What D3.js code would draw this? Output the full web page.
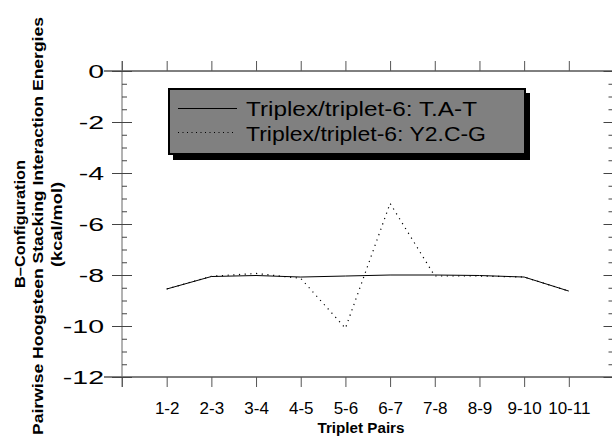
<!DOCTYPE html>
<html>
<head>
<meta charset="utf-8">
<script src="https://cdn.jsdelivr.net/npm/d3@7"></script>
<style>
  body { margin: 0; background: #fff; }
  svg { display: block; font-family: "Liberation Sans", Arial, sans-serif; }
  svg text { font-family: "Liberation Sans", Arial, sans-serif; }
</style>
</head>
<body>
<div id="chart"></div>
<script>
// Triplet pair categories (x positions 1..10)
const pairs = ['1-2', '2-3', '3-4', '4-5', '5-6', '6-7', '7-8', '8-9', '9-10', '10-11'];

// Stacking energies in kcal/mol
const tatValues = [-8.55, -8.06, -8.02, -8.08, -8.04, -8.0, -8.0, -8.02, -8.08, -8.63];
const cgValues  = [-8.55, -8.05, -7.94, -8.13, -10.09, -5.19, -8.04, -8.04, -8.08, -8.63];

const seriesNames = ['Triplex/triplet-6: T.A-T', 'Triplex/triplet-6: Y2.C-G'];
const yMajorTicks = [0, -2, -4, -6, -8, -10, -12];
const yTitleLines = ['B\u2013Configuration', 'Pairwise Hoogsteen Stacking Interaction Energies', '(kcal/mol)'];
const xTitle = 'Triplet Pairs';

const width = 612, height = 437;
const plot = { left: 122, right: 613.5, top: 71, bottom: 377 };
const font = '"Liberation Sans", Arial, sans-serif';

const svg = d3.select('#chart').append('svg')
  .attr('width', width)
  .attr('height', height);

const x = d3.scaleLinear().domain([0, 11]).range([plot.left, plot.right]);
const y = d3.scaleLinear().domain([0, -12]).range([plot.top, plot.bottom]);

const minorTicks = d3.range(0, -12.01, -0.5).filter(v => Math.abs(v % 2) > 0.01);
const xTicks = d3.range(0, 12);

// bottom axis with labels
const gBottom = svg.append('g')
  .attr('transform', `translate(0,${plot.bottom})`)
  .call(d3.axisBottom(x).tickValues(xTicks).tickSize(10).tickPadding(15)
    .tickFormat(i => pairs[i - 1] || ''))
  .attr('font-family', font);
gBottom.select('.domain').attr('stroke', '#000').attr('d', `M${plot.left - 18},0H${width}`);
gBottom.selectAll('.tick line').attr('stroke', '#555');
gBottom.selectAll('.tick text')
  .style('font-size', '17px')
  .attr('fill', '#000');

// top axis, ticks only
const gTop = svg.append('g')
  .attr('transform', `translate(0,${plot.top})`)
  .call(d3.axisTop(x).tickValues(xTicks).tickSize(10).tickFormat(''));
gTop.select('.domain').attr('stroke', '#000').attr('d', `M${plot.left - 18},0H${width}`);
gTop.selectAll('.tick line').attr('stroke', '#555');

// left axis: major crossing ticks with labels (labels are drawn wide in the original)
const gLeft = svg.append('g')
  .attr('transform', `translate(${plot.left},0)`)
  .call(d3.axisLeft(y).tickValues(yMajorTicks).tickSize(10).tickPadding(8)
    .tickFormat(d3.format('d')))
  .attr('font-family', font);
gLeft.select('.domain').attr('stroke', '#666').attr('d', `M0,${plot.top - 10}V${plot.bottom + 10}`);
gLeft.selectAll('.tick line').attr('x1', 10).attr('x2', -10).attr('stroke', '#444');
gLeft.selectAll('.tick text')
  .style('font-size', '19px')
  .attr('fill', '#000')
  .attr('x', 0)
  .attr('transform', 'translate(-18,0) scale(1.5,1)')
  .text(d => d === 0 ? '0' : '-' + Math.abs(d));

// left minor ticks, inward
const gLeftMinor = svg.append('g')
  .attr('transform', `translate(${plot.left},0)`)
  .call(d3.axisLeft(y).tickValues(minorTicks).tickSize(-5).tickFormat(''));
gLeftMinor.select('.domain').remove();
gLeftMinor.selectAll('.tick line').attr('stroke', '#444');

// right axis
const gRight = svg.append('g')
  .attr('transform', `translate(${plot.right},0)`)
  .call(d3.axisRight(y).tickValues(yMajorTicks).tickSize(10).tickFormat(''));
gRight.select('.domain').attr('stroke', '#666');
gRight.selectAll('.tick line').attr('x1', -10).attr('x2', 10).attr('stroke', '#444');
const gRightMinor = svg.append('g')
  .attr('transform', `translate(${plot.right},0)`)
  .call(d3.axisRight(y).tickValues(minorTicks).tickSize(-5).tickFormat(''));
gRightMinor.select('.domain').remove();
gRightMinor.selectAll('.tick line').attr('stroke', '#444');

// data lines
const line = d3.line()
  .x((d, i) => x(i + 1))
  .y(d => y(d));

svg.append('path')
  .datum(cgValues)
  .attr('d', line)
  .attr('fill', 'none')
  .attr('stroke', '#000')
  .attr('stroke-width', 1.2)
  .attr('stroke-dasharray', '1.2,4.5');

svg.append('path')
  .datum(tatValues)
  .attr('d', line)
  .attr('fill', 'none')
  .attr('stroke', '#000')
  .attr('stroke-width', 1);

// legend box with drop shadow
const legend = svg.append('g');
legend.append('rect')
  .attr('x', 173).attr('y', 93)
  .attr('width', 357).attr('height', 67)
  .attr('fill', '#000');
legend.append('rect')
  .attr('x', 169).attr('y', 89)
  .attr('width', 356).attr('height', 65)
  .attr('fill', '#808080')
  .attr('stroke', '#000')
  .attr('stroke-width', 2);

const legendRows = [
  { name: seriesNames[0], dash: null, ly: 108.5, by: 116, len: 231, x2: 237 },
  { name: seriesNames[1], dash: '1,3.5', ly: 132.5, by: 140.5, len: 240, x2: 233 }
];
legendRows.forEach(r => {
  legend.append('line')
    .attr('x1', 178).attr('x2', r.x2)
    .attr('y1', r.ly).attr('y2', r.ly)
    .attr('stroke', '#000')
    .attr('stroke-width', 1)
    .attr('stroke-dasharray', r.dash);
  legend.append('text')
    .attr('x', 246).attr('y', r.by)
    .attr('textLength', r.len)
    .attr('lengthAdjust', 'spacingAndGlyphs')
    .style('font-size', '21px')
    .attr('fill', '#000')
    .text(r.name);
});

// axis titles
svg.append('text')
  .attr('x', 361).attr('y', 433)
  .attr('text-anchor', 'middle')
  .attr('textLength', 87)
  .attr('lengthAdjust', 'spacingAndGlyphs')
  .style('font-size', '14px')
  .style('font-weight', 'bold')
  .text(xTitle);

const yTitle = [
  { t: yTitleLines[0], bx: 25, cy: 224, len: 128 },
  { t: yTitleLines[1], bx: 43, cy: 226, len: 418 },
  { t: yTitleLines[2], bx: 62, cy: 224.5, len: 85 }
];
yTitle.forEach(d => {
  svg.append('text')
    .attr('transform', `translate(${d.bx},${d.cy}) rotate(-90)`)
    .attr('text-anchor', 'middle')
    .attr('textLength', d.len)
    .attr('lengthAdjust', 'spacingAndGlyphs')
    .style('font-size', '15px')
    .style('font-weight', 'bold')
    .text(d.t);
});
</script>
</body>
</html>
